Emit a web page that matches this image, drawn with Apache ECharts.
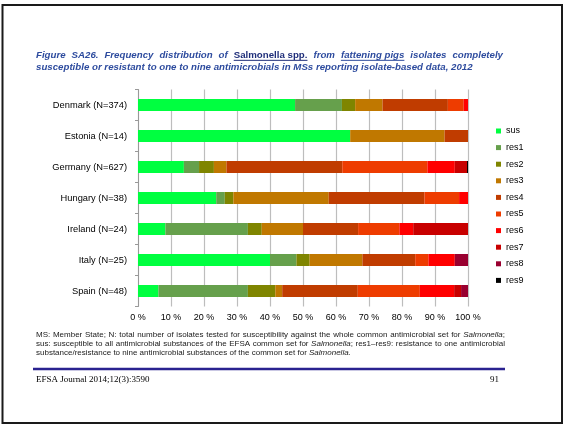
<!DOCTYPE html>
<html>
<head>
<meta charset="utf-8">
<script src="https://cdn.jsdelivr.net/npm/echarts@6/dist/echarts.min.js"></script>
<style>
  html, body { margin: 0; padding: 0; background: #fff; }
  #chart { width: 565px; height: 426px; }
</style>
</head>
<body>
<div id="chart"></div>
<script>
// Member States and number of isolates tested
const countries = ['Denmark (N=374)', 'Estonia (N=14)', 'Germany (N=627)', 'Hungary (N=38)',
                   'Ireland (N=24)', 'Italy (N=25)', 'Spain (N=48)'];

// Share of isolates (%) by number of antimicrobials resisted
const seriesNames = ['sus', 'res1', 'res2', 'res3', 'res4', 'res5', 'res6', 'res7', 'res8', 'res9'];
const sus  = [47.6, 64.3, 13.9, 23.7,  8.3, 40.0,  6.2];
const res1 = [14.2,  0.0,  4.6,  2.6, 25.0,  8.0, 27.1];
const res2 = [ 4.0,  0.0,  4.5,  2.6,  4.2,  4.0,  8.3];
const res3 = [ 8.3, 28.6,  3.8, 28.9, 12.5, 16.0,  2.1];
const res4 = [19.8,  7.1, 35.1, 29.0, 16.7, 16.0, 22.9];
const res5 = [ 4.8,  0.0, 25.8, 10.5, 12.5,  4.0, 18.8];
const res6 = [ 1.3,  0.0,  8.3,  2.7,  4.2,  8.0, 10.4];
const res7 = [ 0.0,  0.0,  3.7,  0.0, 16.7,  0.0,  2.1];
const res8 = [ 0.0,  0.0,  0.0,  0.0,  0.0,  4.0,  2.1];
const res9 = [ 0.0,  0.0,  0.3,  0.0,  0.0,  0.0,  0.0];
const seriesValues = [sus, res1, res2, res3, res4, res5, res6, res7, res8, res9];

const percentTicks = [0, 10, 20, 30, 40, 50, 60, 70, 80, 90, 100];

const palette = ['#00FF40', '#66A04C', '#7F8500', '#C07800', '#C03C00',
                 '#EE3C00', '#FF0000', '#C80000', '#990030', '#000000'];

const SANS = "'Liberation Sans', Arial, sans-serif";
const SERIF = "'Liberation Serif', 'Times New Roman', serif";

// ---- text layout helpers (word-by-word placement, optional justification) ----
const measureCtx = document.createElement('canvas').getContext('2d');
function fontStr(f) {
  return (f.style || 'normal') + ' ' + (f.weight || 'normal') + ' ' + f.size + 'px ' + f.family;
}
function measure(text, f) {
  measureCtx.font = fontStr(f);
  return measureCtx.measureText(text).width;
}
function layoutLine(words, base, x0, x1, y, justify) {
  const ws = words.map(w => Object.assign({}, w, { f: Object.assign({}, base, w.f || {}) }));
  const widths = ws.map(w => measure(w.text, w.f));
  const total = widths.reduce((a, b) => a + b, 0);
  const gaps = ws.filter((w, i) => i > 0 && !w.attach).length;
  const gap = justify && gaps > 0 ? (x1 - x0 - total) / gaps : measure(' ', base);
  const els = [];
  let x = x0;
  ws.forEach((w, i) => {
    if (i > 0 && !w.attach) x += gap;
    els.push({
      type: 'text', x: x, y: y, silent: true,
      style: { text: w.text, font: fontStr(w.f), fill: w.f.color, verticalAlign: 'middle' }
    });
    if (w.underline) {
      const uy = y + w.f.size * 0.55;
      els.push({
        type: 'line', silent: true,
        shape: { x1: x, y1: uy, x2: x + widths[i], y2: uy },
        style: { stroke: w.f.color, lineWidth: 1 }
      });
    }
    x += widths[i];
  });
  return els;
}
function words(str, extra) {
  return str.split(' ').filter(s => s.length).map(t => Object.assign({ text: t }, extra || {}));
}

// ---- figure caption ----
const titleBase = { style: 'italic', weight: 'bold', size: 9.7, family: SANS, color: '#2D4B9E' };
const titleLine1 = [].concat(
  words('Figure SA26. Frequency distribution of'),
  [{ text: 'Salmonella spp.', underline: true, f: { style: 'normal', color: '#1F2E7A' } }],
  words('from'),
  [{ text: 'fattening pigs', underline: true }],
  words('isolates completely')
);
const titleLine2 = words('susceptible or resistant to one to nine antimicrobials in MSs reporting isolate-based data, 2012');

// ---- footnote ----
const noteBase = { style: 'normal', weight: 'normal', size: 8, family: SANS, color: '#1a1a1a' };
const noteLine1 = [].concat(
  words('MS: Member State; N: total number of isolates tested for susceptibility against the whole common antimicrobial set for'),
  [{ text: 'Salmonella', f: { style: 'italic' } }, { text: ';', attach: true }]
);
const noteLine2 = [].concat(
  words('sus: susceptible to all antimicrobial substances of the EFSA common set for'),
  [{ text: 'Salmonella', f: { style: 'italic' } }, { text: ';', attach: true }],
  words('res1\u2013res9: resistance to one antimicrobial')
);
const noteLine3 = [].concat(
  words('substance/resistance to nine antimicrobial substances of the common set for'),
  [{ text: 'Salmonella', f: { style: 'italic' } }, { text: '.', attach: true }]
);

const graphics = [].concat(
  [{
    type: 'rect', silent: true, z: 10,
    shape: { x: 2.5, y: 5, width: 559.5, height: 418 },
    style: { fill: 'none', stroke: '#1a1a1a', lineWidth: 2 }
  }],
  layoutLine(titleLine1, titleBase, 36, 503, 55, true),
  layoutLine(titleLine2, titleBase, 36, 473, 67, false),
  layoutLine(noteLine1, noteBase, 36, 505, 335, true),
  layoutLine(noteLine2, noteBase, 36, 505, 344, true),
  layoutLine(noteLine3, noteBase, 36, 505, 353, false),
  [{
    type: 'line', silent: true,
    shape: { x1: 33, y1: 369, x2: 505, y2: 369 },
    style: { stroke: '#2A2290', lineWidth: 2.5 }
  }, {
    type: 'text', x: 36, y: 380, silent: true,
    style: { text: 'EFSA Journal 2014;12(3):3590', font: 'normal 9px ' + SERIF, fill: '#000', verticalAlign: 'middle' }
  }, {
    type: 'text', x: 499, y: 380, silent: true,
    style: { text: '91', font: 'normal 9px ' + SERIF, fill: '#000', verticalAlign: 'middle', align: 'right' }
  }]
);

const chart = echarts.init(document.getElementById('chart'), null, { renderer: 'canvas' });
chart.setOption({
  animation: false,
  backgroundColor: '#fff',
  textStyle: { fontFamily: SANS },
  grid: { left: 138, top: 89.5, width: 330, height: 217, containLabel: false },
  xAxis: {
    type: 'value',
    min: percentTicks[0],
    max: percentTicks[percentTicks.length - 1],
    interval: percentTicks[1] - percentTicks[0],
    axisLine: { show: false },
    axisTick: { show: false },
    axisLabel: { formatter: '{value} %', fontSize: 9, color: '#000', margin: 7 },
    splitLine: { show: true, lineStyle: { color: '#BDBDBD', width: 1.2 } }
  },
  yAxis: {
    type: 'category',
    data: countries,
    inverse: true,
    axisLine: { show: true, lineStyle: { color: '#999', width: 1 } },
    axisTick: { show: true, length: 3, lineStyle: { color: '#999' } },
    axisLabel: { fontSize: 9.3, color: '#000', margin: 11 },
    splitLine: { show: false }
  },
  legend: {
    orient: 'vertical',
    left: 496,
    top: 126,
    padding: 0,
    icon: 'rect',
    itemWidth: 5,
    itemHeight: 5,
    itemGap: 6.6,
    selectedMode: false,
    textStyle: { fontSize: 9, lineHeight: 10, color: '#000' },
    data: seriesNames
  },
  series: seriesNames.map((name, i) => ({
    name: name,
    type: 'bar',
    stack: 'share',
    barWidth: 12,
    data: seriesValues[i],
    itemStyle: { color: palette[i] },
    emphasis: { disabled: true }
  })),
  graphic: graphics
});
</script>
</body>
</html>
